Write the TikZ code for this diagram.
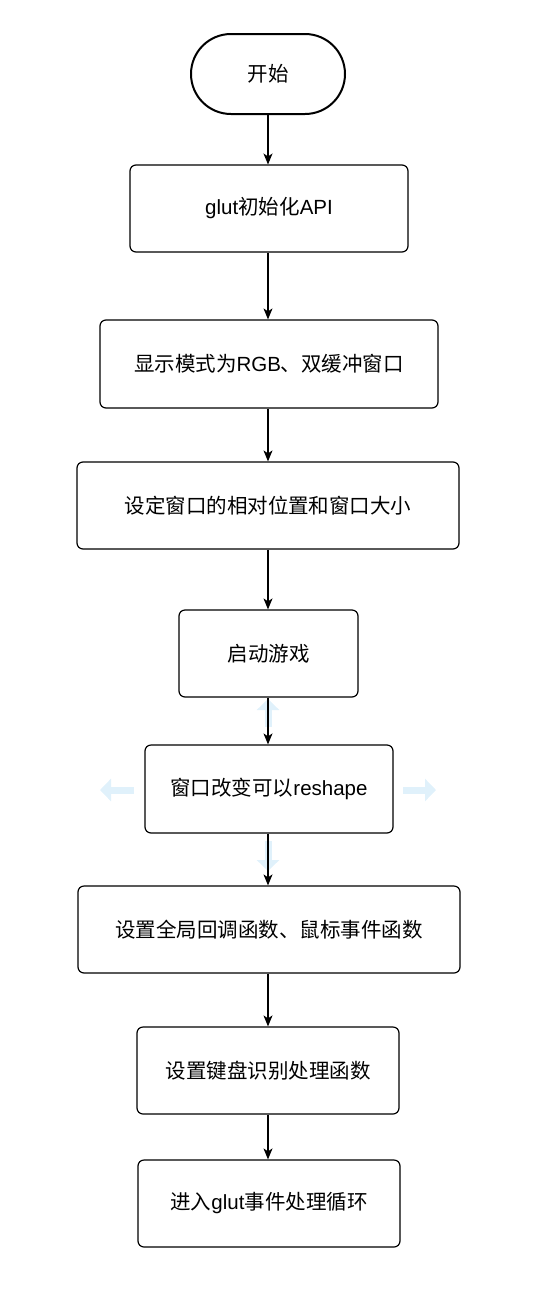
\documentclass[tikz,border=0pt]{standalone}
\usepackage{fontspec}
\setmainfont{Noto Sans CJK SC}
\newfontfamily\lat{Liberation Sans}
\usetikzlibrary{arrows.meta}
\definecolor{hintblue}{HTML}{E0F1FB}
\begin{document}
\begin{tikzpicture}[x=1pt,y=-1pt,
  proc/.style={draw=black, line width=1.2pt, rounded corners=6pt, fill=white, font=\fontsize{20.5}{22}\selectfont},
  flow/.style={-{Stealth[length=11pt,width=9pt,inset=3pt]}, line width=1.2pt},
  hint/.style={-{Triangle[length=11pt,width=22pt]}, line width=7pt, draw=hintblue, color=hintblue}
]
\useasboundingbox (0,0) rectangle (538,1294);
% start terminal
\node[draw=black, line width=2pt, rounded corners=40pt, minimum width=154pt, minimum height=80pt, font=\fontsize{20.5}{22}\selectfont, inner sep=0pt] (start) at (268,74) {开始};
\newcommand{\procbox}[6]{%
  \node[proc, minimum width=#4pt, minimum height=#5pt, inner sep=0pt] (#1) at (#2,#3) {#6};}
\procbox{n1}{269}{208.5}{278}{87}{{\lat glut}初始化{\lat API}}
\procbox{n2}{269}{364}{338}{88}{显示模式为{\lat RGB}、双缓冲窗口}
\procbox{n3}{268}{505.5}{382}{87}{设定窗口的相对位置和窗口大小}
\procbox{n4}{268.5}{653.5}{179}{87}{启动游戏}
\procbox{n5}{269}{789}{248}{88}{窗口改变可以{\lat reshape}}
\procbox{n6}{269}{929.5}{382}{87}{设置全局回调函数、鼠标事件函数}
\procbox{n7}{268}{1070.5}{262}{87}{设置键盘识别处理函数}
\procbox{n8}{269}{1203.5}{262}{87}{进入{\lat glut}事件处理循环}
% faint hint arrows
\coordinate (hu1) at (268,727); \coordinate (hu2) at (268,699);
\coordinate (hl1) at (134,790); \coordinate (hl2) at (100,790);
\coordinate (hr1) at (403,790); \coordinate (hr2) at (436,790);
\coordinate (hd1) at (268,841); \coordinate (hd2) at (268,871);
\draw[hint] (hu1) -- (hu2);
\draw[hint] (hl1) -- (hl2);
\draw[hint] (hr1) -- (hr2);
\draw[hint] (hd1) -- (hd2);
% connectors
\draw[flow] (start.south -| 268,0) -- (268,164.5);
\draw[flow] (n1.south -| 268,0) -- (n2.north -| 268,0);
\draw[flow] (n2.south -| 268,0) -- (n3.north -| 268,0);
\draw[flow] (n3.south -| 268,0) -- (n4.north -| 268,0);
\draw[flow] (n4.south -| 268,0) -- (n5.north -| 268,0);
\draw[flow] (n5.south -| 268,0) -- (n6.north -| 268,0);
\draw[flow] (n6.south -| 268,0) -- (n7.north -| 268,0);
\draw[flow] (n7.south -| 268,0) -- (n8.north -| 268,0);
\end{tikzpicture}
\end{document}
